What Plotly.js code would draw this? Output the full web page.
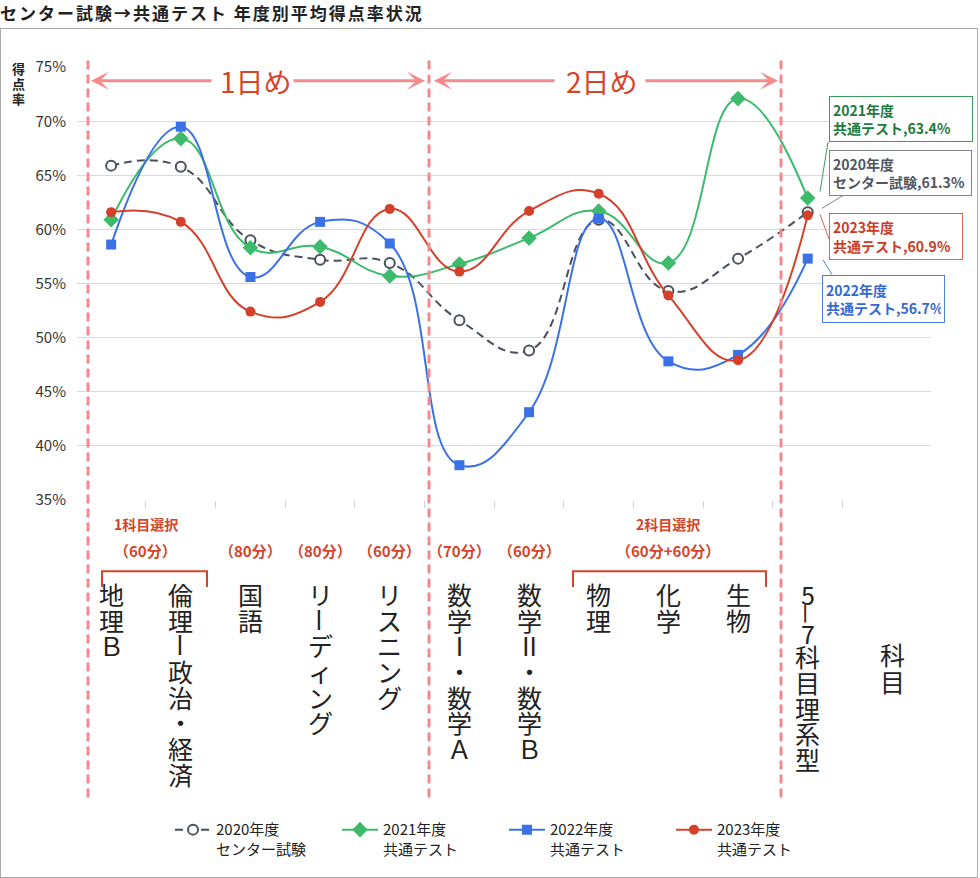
<!DOCTYPE html>
<html>
<head>
<meta charset="utf-8">
<script src="https://cdn.plot.ly/plotly-3.0.1.min.js"></script>
<style>
body { margin: 0; background: #fff; }
#wrap { position: relative; width: 980px; height: 878px; }
#chart { position: absolute; left: 0; top: 0; width: 980px; height: 878px; }
#ttl { position: absolute; left: 0; top: 0; font: bold 17px "Noto Sans CJK JP"; letter-spacing: 2px; color: #222; white-space: nowrap; }
#frame { position: absolute; left: 0; top: 28px; width: 976px; height: 848px; border: 1px solid #aaa; pointer-events: none; }
</style>
</head>
<body>
<div id="wrap">
  <div id="chart"></div>
  <div id="ttl">センター試験→共通テスト 年度別平均得点率状況</div>
  <div id="frame"></div>
</div>
<script>
// data
var subjects = ['地理Ｂ', '倫理ー政治・経済', '国語', 'リーディング', 'リスニング', '数学Ⅰ・数学Ａ', '数学Ⅱ・数学Ｂ', '物理', '化学', '生物', '5－7科目理系型'];
var y2020 = [65.9, 65.8, 59.0, 57.2, 56.9, 51.6, 48.8, 60.9, 54.3, 57.3, 61.6];
var y2021 = [60.9, 68.4, 58.3, 58.4, 55.7, 56.8, 59.2, 61.7, 56.9, 72.1, 62.9];
var y2022 = [58.6, 69.5, 55.6, 60.7, 58.7, 38.2, 43.1, 61.0, 47.8, 48.4, 57.3];
var y2023 = [61.6, 60.7, 52.4, 53.3, 61.9, 56.1, 61.7, 63.3, 53.9, 47.9, 61.3];
var seriesNames = ['2020年度<br>センター試験', '2021年度<br>共通テスト', '2022年度<br>共通テスト', '2023年度<br>共通テスト'];
var endLabels = ['2020年度<br>センター試験,61.3%', '2021年度<br>共通テスト,63.4%', '2022年度<br>共通テスト,56.7%', '2023年度<br>共通テスト,60.9%'];
var yTicks = [35, 40, 45, 50, 55, 60, 65, 70, 75];
var timeLabels = ['（60分）', '（80分）', '（80分）', '（60分）', '（70分）', '（60分）', '（60分+60分）'];
var groupLabels = ['1科目選択', '2科目選択'];
var dayLabels = ['1日め', '2日め'];
var extraLabel = '科目';
var yTitle = '得点率';

// plot area in pixels
var L = 77, R = 931, T = 67, B = 505;
function px(p) { return (p - L) / (R - L); }
function py(p) { return (B - p) / (B - T); }

var red = '#d6442b';
var pink = '#f38a8c';

var colors = ['#4b505d', '#3dba6b', '#3b71e6', '#d5402b'];
var smooth = 1.3;
var traces = [
  {
    x: subjects, y: y2020, name: seriesNames[0], type: 'scatter', mode: 'lines+markers',
    line: {color: colors[0], width: 2, dash: '8px,5px', shape: 'spline', smoothing: smooth},
    marker: {symbol: 'circle', size: 10, color: '#fff', line: {color: colors[0], width: 2}}
  },
  {
    x: subjects, y: y2021, name: seriesNames[1], type: 'scatter', mode: 'lines+markers',
    line: {color: colors[1], width: 2, shape: 'spline', smoothing: smooth},
    marker: {symbol: 'diamond', size: 12, color: colors[1]}
  },
  {
    x: subjects, y: y2022, name: seriesNames[2], type: 'scatter', mode: 'lines+markers',
    line: {color: colors[2], width: 2, shape: 'spline', smoothing: smooth},
    marker: {symbol: 'square', size: 10, color: colors[2]}
  },
  {
    x: subjects, y: y2023, name: seriesNames[3], type: 'scatter', mode: 'lines+markers',
    line: {color: colors[3], width: 2, shape: 'spline', smoothing: smooth},
    marker: {symbol: 'circle', size: 10, color: colors[3]}
  }
];

var annotations = [];
var shapes = [];

// subject names written top to bottom
function vertical(label, x, xref, yStart, size, full, half, weight) {
  var chars = Array.from(label);
  var cy = yStart, prev = 0;
  chars.forEach(function(ch) {
    var dash = (ch === 'ー' || ch === '－');
    var adv = (ch.charCodeAt(0) < 128 || ch === '－') ? half : full;
    if (prev) cy += (prev + adv) / 2;
    prev = adv;
    annotations.push({
      text: ch, xref: xref, yref: 'paper', x: x, y: py(cy),
      showarrow: false, xanchor: 'center', yanchor: 'middle',
      textangle: dash ? 90 : 0,
      font: {size: size, color: '#222', weight: weight || 'normal'}
    });
  });
}
subjects.forEach(function(s, i) { vertical(s, i, 'x', 600, 25, 26, 20); });
vertical(extraLabel, px(892), 'paper', 661, 25, 27, 20);
vertical(yTitle, px(19), 'paper', 69, 13, 15, 15, 'bold');

// exam time and selection notes
var timeSlots = [0.5, 2, 3, 4, 5, 6, 8];
timeLabels.forEach(function(t, i) {
  annotations.push({text: t, xref: 'x', yref: 'paper', x: timeSlots[i], y: py(556),
    yanchor: 'middle', showarrow: false, font: {size: 15, color: red, weight: 'bold'}});
});
[0.5, 8].forEach(function(x, i) {
  annotations.push({text: groupLabels[i], xref: 'x', yref: 'paper', x: x, y: py(529),
    yanchor: 'middle', showarrow: false, font: {size: 14, color: red, weight: 'bold'}});
});

// brackets
[[102, 207], [573, 766]].forEach(function(b) {
  shapes.push({type: 'path', xref: 'paper', yref: 'paper',
    path: 'M' + px(b[0]) + ',' + py(593) + ' L' + px(b[0]) + ',' + py(577) +
          ' L' + px(b[1]) + ',' + py(577) + ' L' + px(b[1]) + ',' + py(593),
    line: {color: red, width: 2}});
});

// day separators
[88, 429, 781].forEach(function(x) {
  shapes.push({type: 'line', xref: 'paper', yref: 'paper', x0: px(x), x1: px(x),
    y0: py(806), y1: py(60), line: {color: pink, width: 3, dash: '9px,5px'}});
});

// day arrows and labels
[[91, 213], [425, 292], [434, 556], [778, 644]].forEach(function(a) {
  annotations.push({text: '', xref: 'paper', yref: 'paper', x: px(a[0]), y: py(81),
    ax: a[1] - a[0], ay: 0, axref: 'pixel', ayref: 'pixel', showarrow: true,
    arrowhead: 3, arrowsize: 1, arrowwidth: 3, arrowcolor: pink, standoff: 0});
});
[256, 602].forEach(function(x, i) {
  annotations.push({text: dayLabels[i], xref: 'paper', yref: 'paper', x: px(x), y: py(81),
    xanchor: 'center', yanchor: 'middle', showarrow: false, font: {size: 28, color: red}});
});

// end value callouts: [left, top, right, bottom], text colour, border colour, leader
var boxes = [
  {b: [829, 151, 972, 197], c: '#505562', bc: '#7d828c', l: [843, 197, 822, 210]},
  {b: [829, 96, 973, 142], c: '#1c7a3c', bc: '#3b9a5b', l: [828, 143, 820, 193]},
  {b: [822, 277, 945, 325], c: '#3567d4', bc: '#4a7ee2', l: [832, 277, 823, 262]},
  {b: [829, 215, 963, 262], c: '#cc3b25', bc: '#e2624e', l: [829, 241, 820, 216]}
];
boxes.forEach(function(o, i) {
  var pad = 3;
  annotations.push({text: endLabels[i], xref: 'paper', yref: 'paper',
    x: px(o.b[0]), y: py(o.b[1]), xanchor: 'left', yanchor: 'top',
    width: o.b[2] - o.b[0] - 2 * pad - 2, height: o.b[3] - o.b[1] - 2 * pad - 2,
    align: 'left', valign: 'middle', showarrow: false,
    bgcolor: '#fff', bordercolor: o.bc, borderwidth: 1, borderpad: pad,
    font: {size: 14, color: o.c, weight: 'bold'}});
  shapes.push({type: 'line', xref: 'paper', yref: 'paper',
    x0: px(o.l[0]), y0: py(o.l[1]), x1: px(o.l[2]), y1: py(o.l[3]),
    line: {color: o.bc, width: 1}});
});

var layout = {
  width: 980,
  height: 878,
  margin: {l: L, r: 980 - R, t: T, b: 878 - B, pad: 0},
  paper_bgcolor: 'rgba(0,0,0,0)',
  plot_bgcolor: 'rgba(0,0,0,0)',
  font: {family: '"Noto Sans CJK JP", "Noto Sans", sans-serif', color: '#222'},
  showlegend: true,
  legend: {
    orientation: 'h', x: px(170), y: py(822), xanchor: 'left', yanchor: 'top',
    valign: 'top', font: {size: 15, color: '#222'}, entrywidth: 116,
    traceorder: 'normal', itemwidth: 36
  },
  xaxis: {
    type: 'category', range: [-0.49, 11.77], showgrid: false, zeroline: false,
    showline: false, ticks: 'outside', ticklen: 7, tickwidth: 1, tickcolor: '#d0d0d0',
    tickson: 'boundaries', showticklabels: false, fixedrange: true
  },
  yaxis: {
    range: [34.98, 75.02], tickvals: yTicks,
    ticktext: yTicks.map(function(v) { return v + '%'; }),
    showgrid: true, gridcolor: '#dadada', gridwidth: 1.5, zeroline: false,
    showline: false, ticks: '', ticklabelstandoff: 10,
    tickfont: {size: 15, color: '#333'}, fixedrange: true
  },
  annotations: annotations,
  shapes: shapes
};

Plotly.newPlot('chart', traces, layout, {displayModeBar: false, staticPlot: true});
</script>
</body>
</html>
